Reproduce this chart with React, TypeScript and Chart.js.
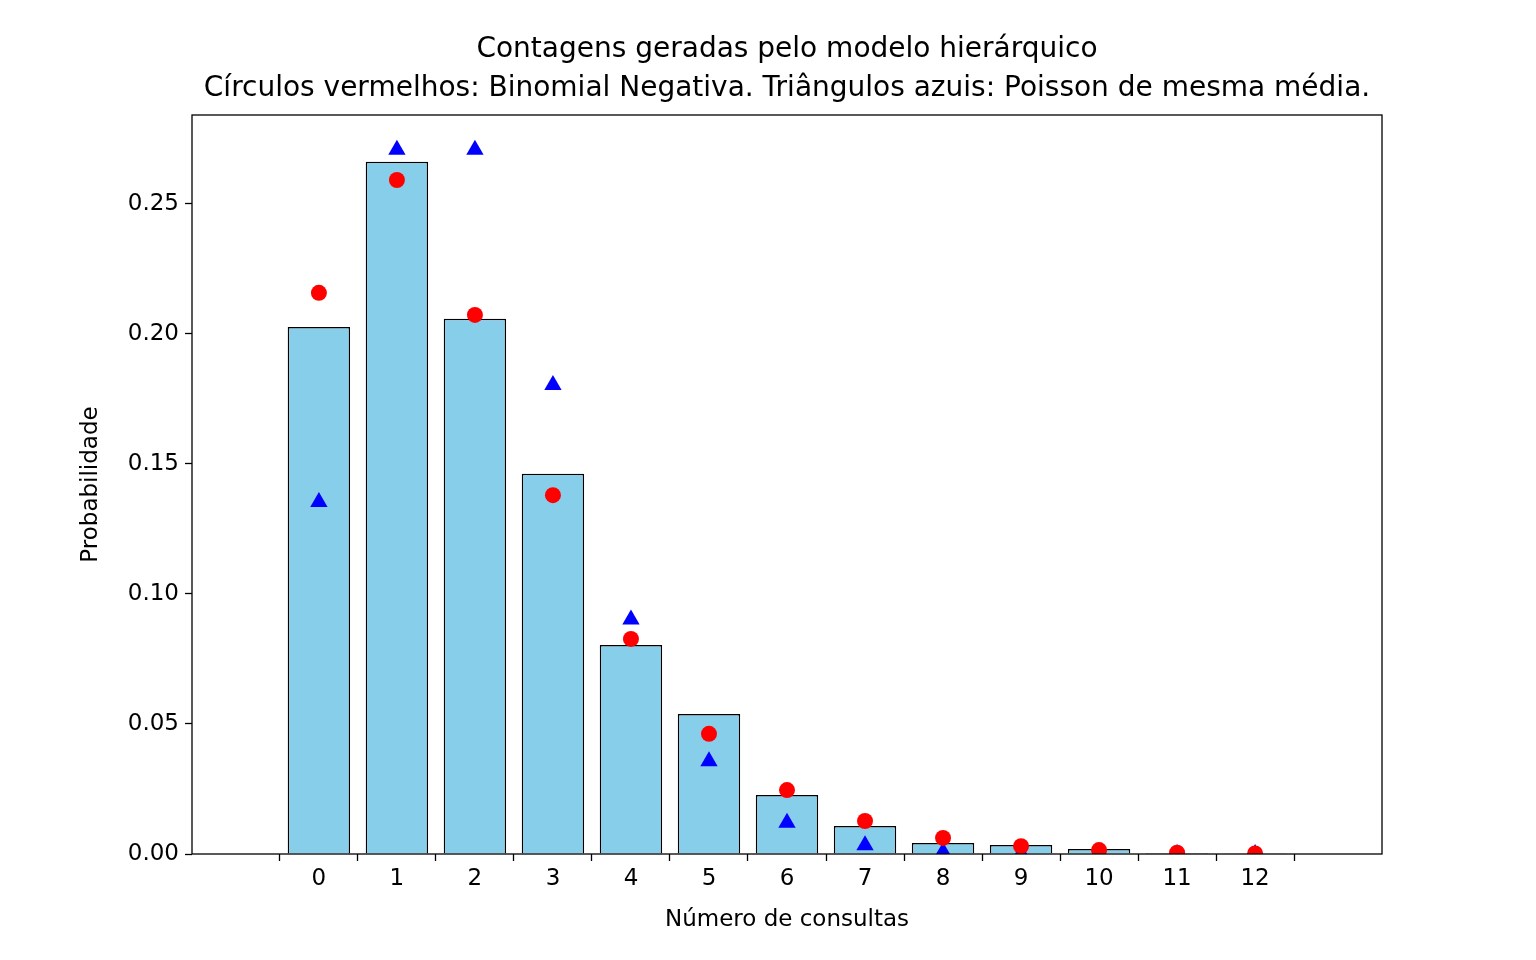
import React, { useEffect, useRef } from "react";
import { Chart, registerables } from "chart.js";
Chart.register(...registerables);

const categories = [0, 1, 2, 3, 4, 5, 6, 7, 8, 9, 10, 11, 12];
const observed = [0.2027, 0.2662, 0.2058, 0.1462, 0.0804, 0.0538, 0.0227, 0.0108, 0.0042, 0.0035, 0.0019, 0.0004, 0.0001];
const negBinomial = [0.2158, 0.2592, 0.2073, 0.138, 0.0827, 0.0462, 0.0246, 0.0127, 0.0062, 0.003, 0.0015, 0.0005, 0.0002];
const poisson = [0.1354, 0.2708, 0.2708, 0.1804, 0.0902, 0.0357, 0.012, 0.0034, 0.0008, 0.0002, 0.00004, 0.00001, 0.0];
const yTicks = [0, 0.05, 0.1, 0.15, 0.2, 0.25];
const titleLines = [
  "Contagens geradas pelo modelo hierárquico",
  "Círculos vermelhos: Binomial Negativa. Triângulos azuis: Poisson de mesma média.",
];
const xLabel = "Número de consultas";
const yLabel = "Probabilidade";

const FONT = "'DejaVu Sans', sans-serif";

export default function App() {
  const ref = useRef<HTMLCanvasElement>(null);
  useEffect(() => {
    document.body.style.margin = "0";
    const deco = {
      id: "deco",
      afterDraw(chart: any) {
        const { ctx, chartArea: a } = chart;
        ctx.save();
        ctx.strokeStyle = "#000";
        ctx.lineWidth = 1.3;
        ctx.strokeRect(a.left, a.top, a.right - a.left, a.bottom - a.top);
        ctx.fillStyle = "#000";
        ctx.textAlign = "center";
        ctx.textBaseline = "middle";
        ctx.font = `28px ${FONT}`;
        ctx.fillText(titleLines[0], (a.left + a.right) / 2, 50);
        ctx.fillText(titleLines[1], (a.left + a.right) / 2, 89);
        ctx.font = `23px ${FONT}`;
        ctx.fillText(xLabel, (a.left + a.right) / 2, 920);
        ctx.translate(91, (a.top + a.bottom) / 2);
        ctx.rotate(-Math.PI / 2);
        ctx.fillText(yLabel, 0, 0);
        ctx.restore();
      },
    };
    const chart = new Chart(ref.current!, {
      type: "bar",
      data: {
        datasets: [
          {
            type: "line",
            data: categories.map((c, i) => ({ x: c, y: negBinomial[i] })),
            showLine: false,
            pointStyle: "circle",
            pointRadius: 8,
            backgroundColor: "#ff0000",
            borderColor: "#ff0000",
            borderWidth: 0,
            order: 1,
          } as any,
          {
            type: "line",
            data: categories.map((c, i) => ({ x: c, y: poisson[i] })),
            showLine: false,
            pointStyle: "triangle",
            pointRadius: 10,
            backgroundColor: "#0000ff",
            borderColor: "#0000ff",
            borderWidth: 0,
            order: 2,
          } as any,
          {
            type: "bar",
            data: categories.map((c, i) => ({ x: c, y: observed[i] })),
            backgroundColor: "#87CEEB",
            borderColor: "#000",
            borderWidth: 1.5,
            barPercentage: 0.8,
            categoryPercentage: 1,
            order: 3,
          } as any,
        ],
      },
      options: {
        animation: false,
        responsive: false,
        layout: { padding: { top: 115, right: 154, left: 0, bottom: 0 } },
        plugins: { legend: { display: false }, tooltip: { enabled: false } },
        scales: {
          x: {
            type: "linear",
            min: -1.04,
            max: 13.04,
            afterBuildTicks: (s: any) => { s.ticks = categories.map((v) => ({ value: v })); },
            afterFit: (s: any) => { s.height = 106; },
            grid: { drawOnChartArea: false, tickLength: 7, color: "#000", tickWidth: 1.3 },
            border: { display: false },
            ticks: { color: "#000", font: { family: FONT, size: 23 }, padding: 4, maxRotation: 0, autoSkip: false },
          },
          y: {
            min: 0,
            max: 0.2842,
            afterBuildTicks: (s: any) => { s.ticks = yTicks.map((v) => ({ value: v })); },
            afterFit: (s: any) => { s.width = 192; },
            grid: { drawOnChartArea: false, tickLength: 7, color: "#000", tickWidth: 1.3 },
            border: { display: false },
            ticks: { color: "#000", font: { family: FONT, size: 23 }, padding: 6, callback: (v: any) => Number(v).toFixed(2) },
          },
        },
      },
      plugins: [deco],
    });
    return () => chart.destroy();
  }, []);
  return <canvas ref={ref} width={1536} height={960} style={{ display: "block", width: 1536, height: 960 }} />;
}
